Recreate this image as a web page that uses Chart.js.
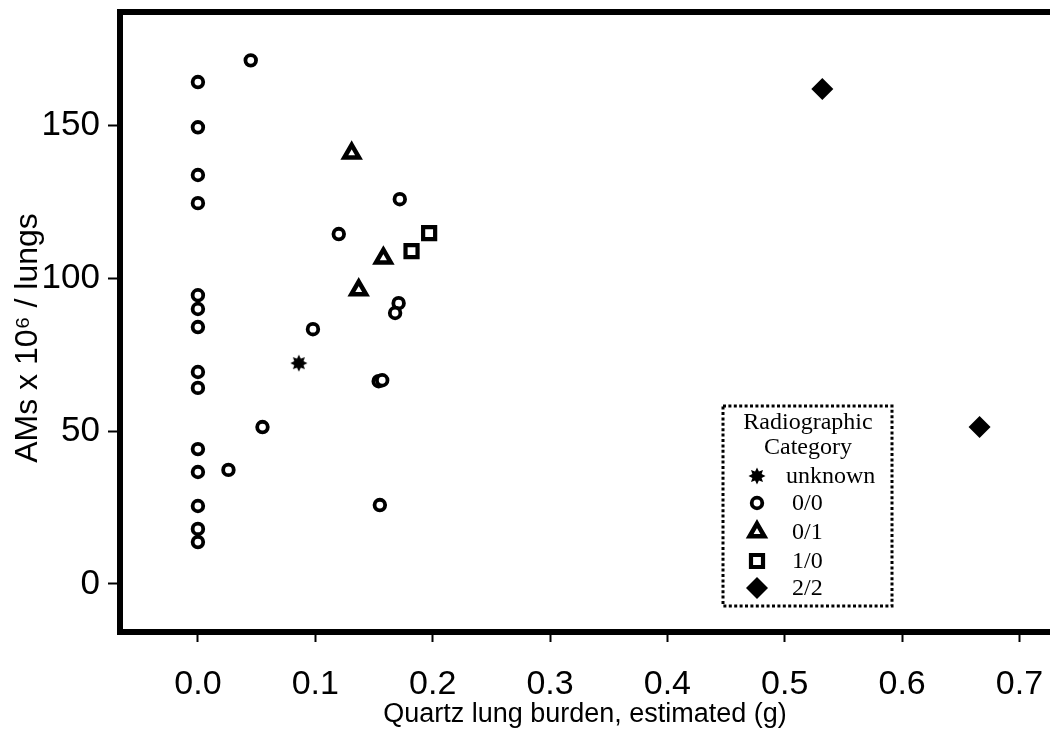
<!DOCTYPE html>
<html>
<head>
<meta charset="utf-8">
<script src="https://cdn.jsdelivr.net/npm/chart.js@4/dist/chart.umd.min.js"></script>
<style>
  html, body { margin: 0; padding: 0; background: #fff; }
  #wrap { width: 1050px; height: 740px; }
</style>
</head>
<body>
<div id="wrap"><canvas id="chart" width="1050" height="740"></canvas></div>
<script>
// values
const unknownX = [0.086];
const unknownY = [72.2];

const cat00X = [0, 0.045, 0, 0, 0, 0, 0, 0, 0, 0, 0, 0, 0, 0, 0,
                0.026, 0.055, 0.098, 0.120, 0.172, 0.171, 0.168, 0.154, 0.157, 0.155];
const cat00Y = [164.1, 171.2, 149.3, 133.7, 124.5, 94.4, 89.9, 84.0, 69.3, 64.1, 44.1, 36.6, 25.5, 18.0, 13.7,
                37.3, 51.3, 83.3, 114.4, 125.8, 91.8, 88.6, 66.3, 66.6, 25.8];

const cat01X = [0.131, 0.158, 0.137];
const cat01Y = [140.8, 106.5, 96.1];

const cat10X = [0.197, 0.182];
const cat10Y = [114.7, 108.8];

const cat22X = [0.532, 0.666];
const cat22Y = [161.8, 51.3];

const xTicks = [0, 0.1, 0.2, 0.3, 0.4, 0.5, 0.6, 0.7];
const yTicks = [0, 50, 100, 150];

const legendLabels = ['unknown', '0/0', '0/1', '1/0', '2/2'];

function pts(xs, ys) {
  return xs.map((x, i) => ({ x: x, y: ys[i] }));
}

// little filled starburst for the "unknown" marker
function makeStar() {
  const c = document.createElement('canvas');
  c.width = 18; c.height = 18;
  const g = c.getContext('2d');
  g.fillStyle = '#000';
  g.beginPath();
  for (let i = 0; i < 16; i++) {
    const a = i * Math.PI / 8 - Math.PI / 2;
    const r = i % 2 === 0 ? 8.5 : 5;
    g.lineTo(9 + Math.cos(a) * r, 9 + Math.sin(a) * r);
  }
  g.closePath();
  g.fill();
  return c;
}
const starImg = makeStar();

const styles = [
  { pointStyle: starImg, radius: 9, borderWidth: 0, bg: '#000' },
  { pointStyle: 'circle', radius: 5.3, borderWidth: 3.8, bg: '#fff' },
  { pointStyle: 'triangle', radius: 8.5, borderWidth: 4.5, bg: '#fff' },
  { pointStyle: 'rect', radius: 8.5, borderWidth: 4.2, bg: '#fff' },
  { pointStyle: 'rectRot', radius: 11, borderWidth: 0, bg: '#000' }
];

const series = [pts(unknownX, unknownY), pts(cat00X, cat00Y), pts(cat01X, cat01Y),
                pts(cat10X, cat10Y), pts(cat22X, cat22Y)];

const datasets = series.map((d, i) => ({
  label: legendLabels[i],
  data: d,
  pointStyle: styles[i].pointStyle,
  pointRadius: styles[i].radius,
  pointBorderWidth: styles[i].borderWidth,
  pointBackgroundColor: styles[i].bg,
  pointBorderColor: '#000',
  showLine: false
}));

const framePlugin = {
  id: 'frame',
  afterDatasetsDraw(chart) {
    const { ctx, chartArea } = chart;
    ctx.save();
    ctx.strokeStyle = '#000';
    ctx.lineWidth = 6;
    ctx.lineCap = 'square';
    ctx.beginPath();
    ctx.moveTo(chart.width + 5, chartArea.top);
    ctx.lineTo(chartArea.left, chartArea.top);
    ctx.lineTo(chartArea.left, chartArea.bottom);
    ctx.lineTo(chart.width + 5, chartArea.bottom);
    ctx.stroke();
    ctx.restore();
  }
};

const legendPlugin = {
  id: 'boxLegend',
  afterDraw(chart) {
    const ctx = chart.ctx;
    ctx.save();
    ctx.strokeStyle = '#000';
    ctx.lineWidth = 3;
    ctx.setLineDash([3, 2.4]);
    ctx.strokeRect(723, 406, 169, 200);
    ctx.setLineDash([]);
    ctx.fillStyle = '#000';
    ctx.font = '24px "Liberation Serif", "Times New Roman", serif';
    ctx.textAlign = 'center';
    ctx.textBaseline = 'middle';
    ctx.fillText('Radiographic', 808, 423);
    ctx.fillText('Category', 808, 448);
    ctx.textAlign = 'left';
    const rowY = [476, 503, 532, 561, 588];
    legendLabels.forEach((lab, i) => {
      const s = styles[i];
      ctx.fillStyle = s.bg;
      ctx.strokeStyle = '#000';
      ctx.lineWidth = s.borderWidth;
      Chart.helpers.drawPoint(ctx, {
        pointStyle: s.pointStyle, radius: s.radius, rotation: 0, borderWidth: s.borderWidth
      }, 757, rowY[i]);
      ctx.fillStyle = '#000';
      ctx.fillText(lab, i === 0 ? 786 : 792, rowY[i] + 1);
    });
    ctx.restore();
  }
};

new Chart(document.getElementById('chart'), {
  type: 'scatter',
  data: { datasets: datasets },
  plugins: [framePlugin, legendPlugin],
  options: {
    responsive: false,
    animation: false,
    events: [],
    layout: { autoPadding: false, padding: { top: 12, right: 0, left: 0, bottom: 0 } },
    plugins: { legend: { display: false }, tooltip: { enabled: false } },
    scales: {
      x: {
        type: 'linear',
        min: -0.0664,
        max: 0.726,
        afterBuildTicks: (scale) => { scale.ticks = xTicks.map(v => ({ value: v })); },
        afterFit: (scale) => { scale.height = 108; scale.paddingLeft = 0; scale.paddingRight = 0; },
        border: { display: false },
        grid: { drawOnChartArea: false, drawTicks: true, tickLength: 10, tickWidth: 2, tickColor: '#000' },
        ticks: {
          color: '#000',
          padding: 22,
          font: { family: '"Liberation Sans", Arial', size: 34 },
          callback: (v) => v.toFixed(1)
        },
        title: {
          display: true,
          text: 'Quartz lung burden, estimated (g)',
          color: '#000',
          padding: { top: 0, bottom: 9 },
          font: { family: '"Liberation Sans", Arial', size: 27 }
        }
      },
      y: {
        type: 'linear',
        min: -15.7,
        max: 187,
        afterBuildTicks: (scale) => { scale.ticks = yTicks.map(v => ({ value: v })); },
        afterFit: (scale) => { scale.width = 120; scale.paddingTop = 0; scale.paddingBottom = 0; },
        border: { display: false },
        grid: { drawOnChartArea: false, drawTicks: true, tickLength: 12, tickWidth: 2, tickColor: '#000' },
        ticks: {
          color: '#000',
          padding: 8,
          font: { family: '"Liberation Sans", Arial', size: 35 }
        },
        title: {
          display: true,
          text: 'AMs x 10\u2076 / lungs\u2002\u2002',
          color: '#000',
          padding: { top: 9, bottom: 0 },
          font: { family: '"Liberation Sans", Arial', size: 32 }
        }
      }
    }
  }
});
</script>
</body>
</html>
